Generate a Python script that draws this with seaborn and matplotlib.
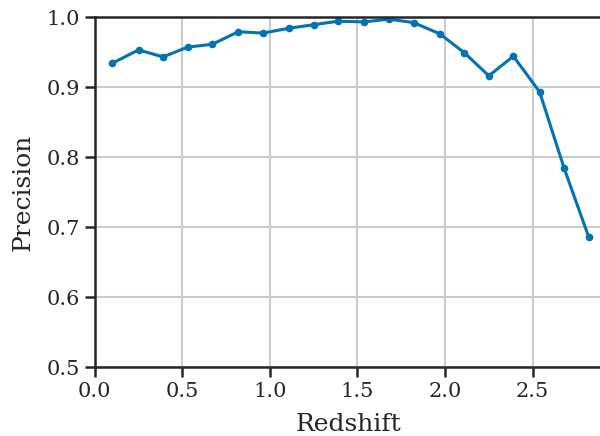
import matplotlib
matplotlib.use("Agg")
import matplotlib.pyplot as plt
import pandas as pd
import seaborn as sns

# Binned precision as a function of redshift
redshift = [0.10, 0.25, 0.39, 0.53, 0.67, 0.82, 0.96, 1.11, 1.25, 1.39,
            1.54, 1.68, 1.82, 1.97, 2.11, 2.25, 2.39, 2.54, 2.68, 2.82]
precision = [0.934, 0.953, 0.943, 0.957, 0.961, 0.979, 0.977, 0.984, 0.989, 0.994,
             0.993, 0.997, 0.992, 0.976, 0.949, 0.916, 0.944, 0.893, 0.784, 0.686]

sns.set_theme(style="ticks", palette="colorblind")
plt.rcParams["font.family"] = ["DejaVu Serif"]

df = pd.DataFrame({"Redshift": redshift, "Precision": precision})

fig = plt.figure(figsize=(6, 4.36), dpi=100)
# right spine sits just past the canvas edge, as in the cropped original
ax = fig.add_axes([0.158, 0.158, 0.845, 0.803])
sns.lineplot(data=df, x="Redshift", y="Precision", marker="o", color="#0173b2",
             linewidth=2.2, markersize=5.5, markeredgewidth=0, ax=ax)
ax.set_xlim(0, 2.895)
ax.set_ylim(0.5, 1.0)
ax.set_xticks([0.0, 0.5, 1.0, 1.5, 2.0, 2.5])
ax.set_yticks([0.5, 0.6, 0.7, 0.8, 0.9, 1.0])
ax.grid(True, color="#cccccc", linewidth=1.5)
ax.set_axisbelow(True)
for s in ax.spines.values():
    s.set_linewidth(1.8)
    s.set_color("#262626")
ax.tick_params(labelsize=15, length=7, width=1.8, colors="#262626")
ax.set_xlabel("Redshift", fontsize=18, labelpad=9)
ax.set_ylabel("Precision", fontsize=18, labelpad=9)

fig.savefig("out.png", dpi=100)
